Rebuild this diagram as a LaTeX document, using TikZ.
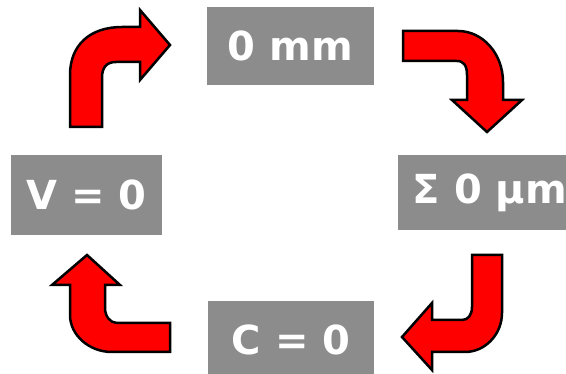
\documentclass[tikz,border=0pt]{standalone}
\usepackage{fontspec}
\setmainfont{DejaVu Sans}
\definecolor{boxgray}{RGB}{140,140,140}
\definecolor{arrowred}{RGB}{255,0,0}
\begin{document}
\begin{tikzpicture}[x=1pt,y=-1pt,
  label box/.style={fill=boxgray,text=white,inner sep=0pt,
    font=\fontsize{40}{48}\selectfont\bfseries},
  bent arrow/.style={fill=arrowred,draw=black,line width=2.5pt,line join=miter}]
\useasboundingbox (0,0) rectangle (566,374);
% boxes
\node[label box,minimum width=167pt,minimum height=78pt] (top) at (290.5,46) {0 mm};
\node[label box,minimum width=184pt,minimum height=75pt] (right) at (490,192.5) {Σ 0 µm};
\node[label box,minimum width=151pt,minimum height=80pt] (left) at (86.5,195) {V = 0};
\node[label box,minimum width=166pt,minimum height=78pt] (bottom) at (291,340) {C = 0};
% arrow: left -> top
\draw[bent arrow] (70,127) -- (70,75) .. controls (70,45) and (90,27) .. (122,27)
  -- (140,27) -- (140,10) -- (170,45) -- (140,80) -- (140,62) -- (116,62)
  .. controls (106,62) and (102,68) .. (102,78) -- (102,127) -- cycle;
% arrow: top -> right
\draw[bent arrow] (403,31) -- (458,31) .. controls (483,31) and (503,54) .. (503,82)
  -- (503,100) -- (522,100) -- (487,132) -- (452,100) -- (467,100) -- (467,75)
  .. controls (467,66) and (464,61) .. (457,61) -- (403,61) -- cycle;
% arrow: right -> bottom
\draw[bent arrow] (472,255) -- (502,255) -- (502,313) .. controls (502,334.5) and (485,352) .. (465,352)
  -- (432,352) -- (432,370) -- (402,337) -- (432,303) -- (432,320) -- (462,320)
  .. controls (468,320) and (472,315) .. (472,307) -- cycle;
% arrow: bottom -> left
\draw[bent arrow] (170,323) -- (117,323) .. controls (110,323) and (105,316) .. (105,308)
  -- (105,285) -- (120,285) -- (87,255) -- (52,285) -- (70,285) -- (70,315)
  .. controls (70,335) and (89,352) .. (112,352) -- (170,352) -- cycle;
\end{tikzpicture}
\end{document}
